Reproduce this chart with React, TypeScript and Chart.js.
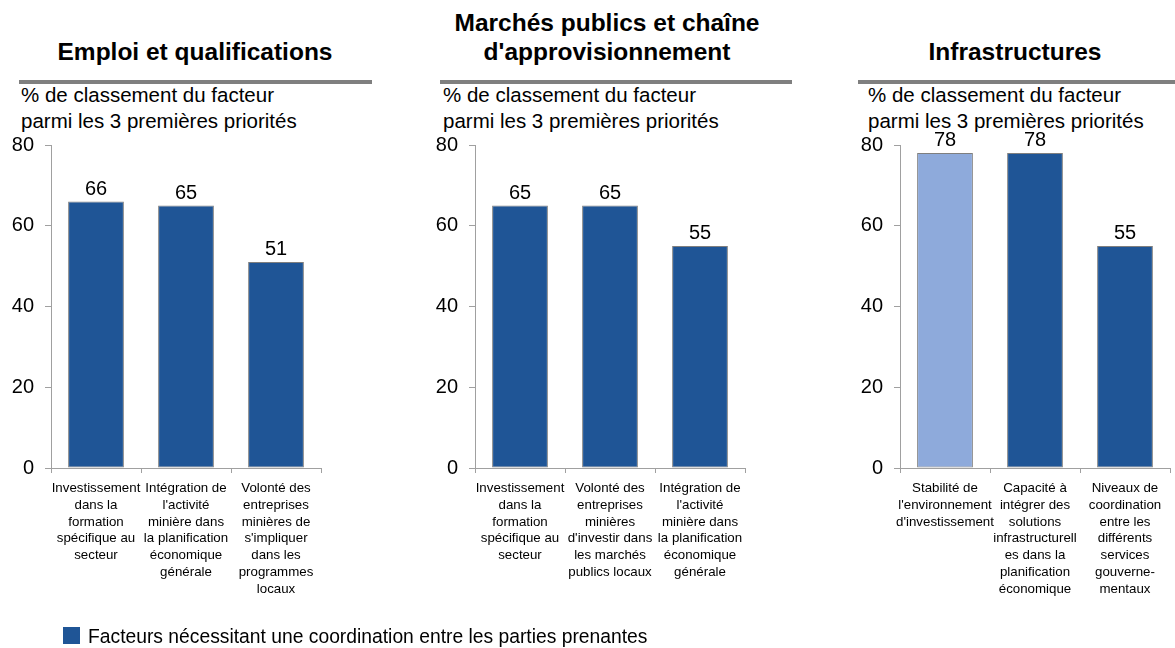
import React, { useEffect, useRef } from "react";
import { Chart, registerables } from "chart.js";

Chart.register(...registerables);

const FONT = '"Liberation Sans", Arial, Helvetica, sans-serif';

// ---- data ----
const panelTitles = [
  ["Emploi et qualifications"],
  ["Marchés publics et chaîne", "d'approvisionnement"],
  ["Infrastructures"],
];
const axisTitleLines = ["% de classement du facteur", "parmi les 3 premières priorités"];
const yMin = 0;
const yMax = 80;
const yStep = 20;

const emploiCategories = [
  ["Investissement", "dans la", "formation", "spécifique au", "secteur"],
  ["Intégration de", "l'activité", "minière dans", "la planification", "économique", "générale"],
  ["Volonté des", "entreprises", "minières de", "s'impliquer", "dans les", "programmes", "locaux"],
];
const emploiValues = [66, 65, 51];

const marchesCategories = [
  ["Investissement", "dans la", "formation", "spécifique au", "secteur"],
  ["Volonté des", "entreprises", "minières", "d'investir dans", "les marchés", "publics locaux"],
  ["Intégration de", "l'activité", "minière dans", "la planification", "économique", "générale"],
];
const marchesValues = [65, 65, 55];

const infraCategories = [
  ["Stabilité de", "l'environnement", "d'investissement"],
  ["Capacité à", "intégrer des", "solutions", "infrastructurell", "es dans la", "planification", "économique"],
  ["Niveaux de", "coordination", "entre les", "différents", "services", "gouverne-", "mentaux"],
];
const infraValues = [78, 78, 55];
const infraCoordination = [false, true, true];

const legendLabel = "Facteurs nécessitant une coordination entre les parties prenantes";

// ---- styles ----
const DARK = "#1F5596";
const LIGHT = "#8EAADB";
const BAR_BORDER = "#7F7F7F";
const AXIS = "#A0A0A0";
const RULE = "#7F7F7F";

const valueLabels = {
  id: "valueLabels",
  afterDatasetsDraw(chart: any) {
    const ctx = chart.ctx;
    const meta = chart.getDatasetMeta(0);
    const data = chart.data.datasets[0].data;
    ctx.save();
    ctx.font = `20px ${FONT}`;
    ctx.fillStyle = "#000";
    ctx.textAlign = "center";
    ctx.textBaseline = "alphabetic";
    meta.data.forEach((bar: any, i: number) => {
      ctx.fillText(String(data[i]), bar.x, bar.y - 7);
    });
    ctx.restore();
  },
};

type PanelProps = {
  categories: string[][];
  values: number[];
  colors: string[];
  left: number;
  width: number;
  axisLeft: number;
  right: number;
};

const CANVAS_TOP = 130;
const CANVAS_H = 500;
const AREA_TOP = 145;
const AREA_BOTTOM = 468;

function Panel({ categories, values, colors, left, width, axisLeft, right }: PanelProps) {
  const ref = useRef<HTMLCanvasElement | null>(null);
  useEffect(() => {
    if (!ref.current) return;
    const yWidth = axisLeft - left;
    const padRight = left + width - right;
    const padTop = AREA_TOP - CANVAS_TOP;
    const xHeight = CANVAS_H - (AREA_BOTTOM - CANVAS_TOP);
    const chart = new Chart(ref.current, {
      type: "bar",
      data: {
        labels: categories as any,
        datasets: [
          {
            data: values,
            backgroundColor: colors,
            borderColor: BAR_BORDER,
            borderWidth: 1,
            borderSkipped: false,
            barPercentage: 0.62,
            categoryPercentage: 1,
          },
        ],
      },
      options: {
        responsive: false,
        animation: false,
        devicePixelRatio: 1,
        layout: { padding: { left: 0, right: padRight, top: padTop, bottom: 0 } },
        plugins: {
          legend: { display: false },
          tooltip: { enabled: false },
          title: { display: false },
        },
        scales: {
          x: {
            grid: {
              display: true,
              drawOnChartArea: false,
              drawTicks: true,
              tickLength: 5,
              offset: true,
              color: AXIS,
            },
            border: { display: true, color: AXIS, width: 1 },
            ticks: {
              maxRotation: 0,
              minRotation: 0,
              autoSkip: false,
              padding: 7,
              color: "#000",
              font: { family: FONT, size: 13.3, lineHeight: 1.26 },
            },
            afterFit: (s: any) => {
              s.height = xHeight;
              s.paddingLeft = 0;
              s.paddingRight = 0;
              s.paddingTop = 0;
              s.paddingBottom = 0;
            },
          },
          y: {
            min: yMin,
            max: yMax,
            ticks: {
              stepSize: yStep,
              padding: 11,
              color: "#000",
              font: { family: FONT, size: 20 },
            },
            grid: {
              display: true,
              drawOnChartArea: false,
              drawTicks: true,
              tickLength: 6,
              color: AXIS,
            },
            border: { display: true, color: AXIS, width: 1 },
            afterFit: (s: any) => {
              s.width = yWidth;
              s.paddingLeft = 0;
              s.paddingRight = 0;
              s.paddingTop = 0;
              s.paddingBottom = 0;
            },
          },
        },
      },
      plugins: [valueLabels],
    });
    return () => chart.destroy();
  }, []);
  return (
    <canvas
      ref={ref}
      width={width}
      height={CANVAS_H}
      style={{ position: "absolute", left, top: CANVAS_TOP, width, height: CANVAS_H }}
    />
  );
}

const panels = [
  { titleLeft: 0, titleWidth: 390, titleTop: 37, ruleLeft: 19, ruleRight: 372, subLeft: 21, canvasLeft: 0, canvasWidth: 340, axisLeft: 51, right: 321 },
  { titleLeft: 407, titleWidth: 400, titleTop: 8, ruleLeft: 440, ruleRight: 792, subLeft: 443, canvasLeft: 420, canvasWidth: 345, axisLeft: 475, right: 745 },
  { titleLeft: 865, titleWidth: 300, titleTop: 37, ruleLeft: 858, ruleRight: 1175, subLeft: 868, canvasLeft: 845, canvasWidth: 330, axisLeft: 900, right: 1170 },
];

export default function App() {
  const datasets = [
    { categories: emploiCategories, values: emploiValues, colors: emploiValues.map(() => DARK) },
    { categories: marchesCategories, values: marchesValues, colors: marchesValues.map(() => DARK) },
    { categories: infraCategories, values: infraValues, colors: infraCoordination.map((c) => (c ? DARK : LIGHT)) },
  ];
  return (
    <div
      style={{
        position: "absolute",
        left: 0,
        top: 0,
        width: 1175,
        height: 648,
        overflow: "hidden",
        background: "#fff",
        fontFamily: FONT,
        color: "#000",
      }}
    >
      {panels.map((p, i) => (
        <React.Fragment key={i}>
          <div
            style={{
              position: "absolute",
              left: p.titleLeft,
              top: p.titleTop,
              width: p.titleWidth,
              textAlign: "center",
              fontWeight: "bold",
              fontSize: 24.5,
              lineHeight: "29px",
            }}
          >
            {panelTitles[i].map((t, j) => (
              <div key={j}>{t}</div>
            ))}
          </div>
          <div
            style={{
              position: "absolute",
              left: p.ruleLeft,
              top: 80,
              width: p.ruleRight - p.ruleLeft,
              height: 4,
              background: RULE,
            }}
          />
          <div
            style={{
              position: "absolute",
              left: p.subLeft,
              top: 82,
              fontSize: 20.5,
              lineHeight: "26px",
              whiteSpace: "nowrap",
            }}
          >
            {axisTitleLines.map((t, j) => (
              <div key={j}>{t}</div>
            ))}
          </div>
          <Panel
            categories={datasets[i].categories}
            values={datasets[i].values}
            colors={datasets[i].colors}
            left={p.canvasLeft}
            width={p.canvasWidth}
            axisLeft={p.axisLeft}
            right={p.right}
          />
        </React.Fragment>
      ))}
      <div
        style={{
          position: "absolute",
          left: 63,
          top: 627,
          width: 17,
          height: 17,
          background: DARK,
        }}
      />
      <div
        style={{
          position: "absolute",
          left: 88,
          top: 626,
          fontSize: 19.3,
          lineHeight: "22px",
          whiteSpace: "nowrap",
        }}
      >
        {legendLabel}
      </div>
    </div>
  );
}
